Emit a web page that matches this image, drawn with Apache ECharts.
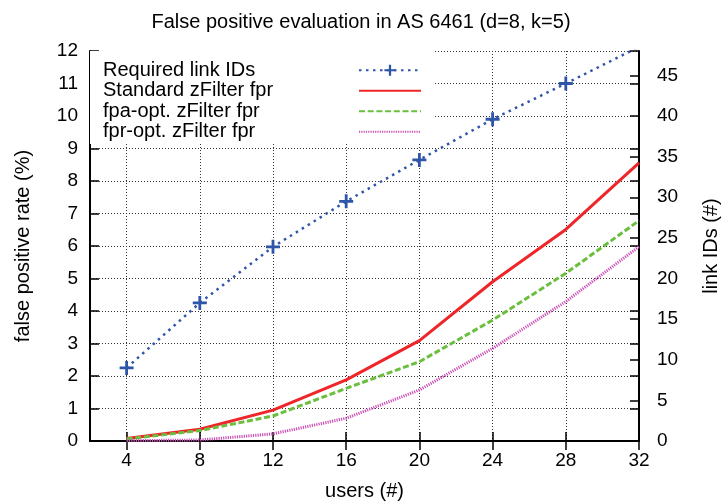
<!DOCTYPE html>
<html>
<head>
<meta charset="utf-8">
<script src="https://cdn.jsdelivr.net/npm/echarts@6/dist/echarts.min.js"></script>
<style>
    html, body { margin: 0; padding: 0; background: #fff; }
    #chart { width: 722px; height: 503px; }
</style>
</head>
<body>
<div id="chart"></div>
<script>
    // users (#)
    var users = [4, 8, 12, 16, 20, 24, 28, 32];
    // link IDs (#) -- right axis
    var requiredLinkIds = [9, 17, 23.9, 29.5, 34.6, 39.6, 44, 48.5];
    // false positive rate (%) -- left axis
    var standardFpr = [0.08, 0.36, 0.95, 1.88, 3.09, 4.9, 6.51, 8.56];
    var fpaOptFpr = [0.06, 0.32, 0.77, 1.62, 2.44, 3.72, 5.16, 6.78];
    var fprOptFpr = [0.01, 0.03, 0.22, 0.7, 1.57, 2.85, 4.29, 5.98];

    var xTicks = [4, 8, 12, 16, 20, 24, 28, 32];
    var linkTicks = [0, 5, 10, 15, 20, 25, 30, 35, 40, 45];

    var seriesNames = ['Required link IDs', 'Standard zFilter fpr', 'fpa-opt. zFilter fpr', 'fpr-opt. zFilter fpr'];

    function pairs(ys) {
        var out = [];
        for (var i = 0; i < users.length; i++) {
            out.push([users[i], ys[i]]);
        }
        return out;
    }

    var font = 'Liberation Sans, Arial, Helvetica, sans-serif';
    var plus = 'path://M4,0h2v4h4v2h-4v4h-2v-4h-4v-2h4z';

    var chart = echarts.init(document.getElementById('chart'));
    var option = {
        animation: false,
        backgroundColor: '#fff',
        textStyle: { fontFamily: font, color: '#000' },
        title: {
            text: 'False positive evaluation in AS 6461 (d=8, k=5)',
            left: 'center',
            top: 7,
            textStyle: { fontSize: 20, fontWeight: 'normal', color: '#000', fontFamily: font }
        },
        legend: {
            // no symbol on the plain line samples, only the line itself
            data: [
                { name: seriesNames[0] },
                { name: seriesNames[1], itemStyle: { opacity: 0 } },
                { name: seriesNames[2], itemStyle: { opacity: 0 } },
                { name: seriesNames[3], itemStyle: { opacity: 0 } }
            ],
            orient: 'vertical',
            left: 90,
            top: 51,
            align: 'right',
            padding: [9, 12, 2, 13],
            itemGap: 0,
            itemWidth: 62,
            itemHeight: 14,
            backgroundColor: '#fff',
            formatter: function (name) {
                return '{a|' + name + '}';
            },
            textStyle: {
                lineHeight: 20.5,
                rich: {
                    a: { width: 251, align: 'left', fontSize: 20, lineHeight: 20.5, color: '#000', fontFamily: font }
                }
            }
        },
        grid: {
            left: 90,
            right: 83,
            top: 51,
            bottom: 62,
            containLabel: false,
            outerBoundsMode: 'none'
        },
        xAxis: [
            {
                type: 'value',
                min: 2,
                max: 32,
                name: 'users (#)',
                nameLocation: 'middle',
                nameGap: 40,
                nameTextStyle: { fontSize: 20, color: '#000', fontFamily: font },
                axisLine: { lineStyle: { color: '#000', width: 2 } },
                axisTick: { inside: true, length: 9, customValues: xTicks, lineStyle: { color: '#000', width: 1.5 } },
                axisLabel: { customValues: xTicks, fontSize: 19, color: '#000', margin: 10, fontFamily: font },
                splitLine: { show: true, lineStyle: { color: '#333', width: 1, type: [1, 2] } }
            },
            {
                type: 'value',
                position: 'top',
                min: 2,
                max: 32,
                axisLine: { lineStyle: { color: '#000', width: 2 } },
                axisTick: { inside: true, length: 9, customValues: xTicks, lineStyle: { color: '#000', width: 1.5 } },
                axisLabel: { show: false },
                splitLine: { show: false }
            }
        ],
        yAxis: [
            {
                type: 'value',
                position: 'left',
                min: 0,
                max: 12,
                interval: 1,
                name: 'false positive rate (%)',
                nameLocation: 'middle',
                nameGap: 57,
                nameTextStyle: { fontSize: 20, color: '#000', fontFamily: font },
                axisLine: { show: true, lineStyle: { color: '#000', width: 2 } },
                axisTick: { show: true, inside: true, length: 9, lineStyle: { color: '#000', width: 1.5 } },
                axisLabel: { fontSize: 19, color: '#000', margin: 12, fontFamily: font },
                splitLine: { show: true, lineStyle: { color: '#333', width: 1, type: [1, 2] } }
            },
            {
                type: 'value',
                position: 'right',
                min: 0,
                max: 48,
                name: 'link IDs (#)',
                nameLocation: 'middle',
                nameGap: 62,
                nameTextStyle: { fontSize: 20, color: '#000', fontFamily: font },
                axisLine: { show: true, lineStyle: { color: '#000', width: 2 } },
                axisTick: { show: true, inside: true, length: 9, customValues: linkTicks, lineStyle: { color: '#000', width: 1.5 } },
                axisLabel: { customValues: linkTicks, fontSize: 19, color: '#000', margin: 18, fontFamily: font },
                splitLine: { show: false }
            },
            {
                // mirrored ticks of the left axis on the right border
                type: 'value',
                position: 'right',
                min: 0,
                max: 12,
                interval: 1,
                axisLine: { show: false },
                axisTick: { show: true, inside: true, length: 9, lineStyle: { color: '#000', width: 1.5 } },
                axisLabel: { show: false },
                splitLine: { show: false }
            }
        ],
        series: [
            {
                name: seriesNames[0],
                type: 'line',
                yAxisIndex: 1,
                data: pairs(requiredLinkIds),
                symbol: plus,
                symbolSize: 14,
                itemStyle: { color: '#2f55a8' },
                lineStyle: { color: '#2f55a8', width: 2.5, type: [2.5, 4.5] }
            },
            {
                name: seriesNames[1],
                type: 'line',
                yAxisIndex: 0,
                data: pairs(standardFpr),
                symbol: 'none',
                itemStyle: { color: '#ee2529' },
                lineStyle: { color: '#ee2529', width: 3 }
            },
            {
                name: seriesNames[2],
                type: 'line',
                yAxisIndex: 0,
                data: pairs(fpaOptFpr),
                symbol: 'none',
                itemStyle: { color: '#6bbf3e' },
                lineStyle: { color: '#6bbf3e', width: 3, type: [6, 2.7] }
            },
            {
                name: seriesNames[3],
                type: 'line',
                yAxisIndex: 0,
                data: pairs(fprOptFpr),
                symbol: 'none',
                itemStyle: { color: '#cc4fb5' },
                lineStyle: { color: '#cc4fb5', width: 3, type: [1.2, 1.1] }
            }
        ]
    };
    chart.setOption(option);
</script>
</body>
</html>
